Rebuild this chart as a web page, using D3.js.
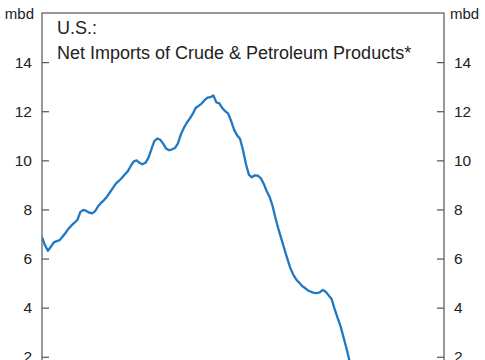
<!DOCTYPE html>
<html>
<head>
<meta charset="utf-8">
<script src="https://cdn.jsdelivr.net/npm/d3@7"></script>
<style>
  html, body { margin: 0; padding: 0; background: #fff; overflow: hidden; }
  svg { display: block; font-family: "Liberation Sans", Arial, sans-serif; }
</style>
</head>
<body>
<svg id="chart" width="485" height="360"></svg>
<script>
// quarterly series, first point = 1991 Q1
const START = new Date(1991, 0, 1);
const netImports = [
  6.87, 6.55, 6.32, 6.48, 6.66, 6.71, 6.75, 6.90, 7.05, 7.22,
  7.35, 7.46, 7.58, 7.90, 7.98, 7.94, 7.87, 7.84, 7.93, 8.13,
  8.27, 8.38, 8.52, 8.70, 8.88, 9.05, 9.16, 9.28, 9.42, 9.55,
  9.76, 9.95, 10.00, 9.90, 9.84, 9.90, 10.10, 10.45, 10.78, 10.89,
  10.84, 10.68, 10.48, 10.41, 10.45, 10.50, 10.69, 11.06, 11.32, 11.53,
  11.70, 11.89, 12.13, 12.22, 12.31, 12.45, 12.55, 12.57, 12.64, 12.36,
  12.32, 12.13, 12.00, 11.90, 11.60, 11.25, 11.02, 10.88, 10.42, 9.85,
  9.42, 9.31, 9.39, 9.38, 9.28, 9.05, 8.75, 8.52, 8.15, 7.65,
  7.20, 6.80, 6.40, 6.00, 5.62, 5.35, 5.15, 5.02, 4.88, 4.80,
  4.70, 4.65, 4.60, 4.59, 4.62, 4.72, 4.65, 4.50, 4.35, 3.95,
  3.58, 3.25, 2.80, 2.35, 1.85, 1.40, 0.95, 0.55, 0.25, 0.05,
  -0.30, -0.50, -0.20, 0.00, -0.40, -0.70, -0.90, -1.10, -1.30, -1.50
];
const yTicks = [-2, 0, 2, 4, 6, 8, 10, 12, 14];
const titleLines = ['U.S.:', 'Net Imports of Crude & Petroleum Products*'];
const unitLabel = 'mbd';

const svg = d3.select('#chart');
const plotLeft = 42, plotRight = 444, plotTop = 13, plotBottom = 455;

const x = d3.scaleTime()
  .domain([new Date(1991, 0, 1), new Date(2025, 0, 1)])
  .range([plotLeft, plotRight]);
const y = d3.scaleLinear().domain([-2, 16]).range([plotBottom, plotTop]);

const data = netImports.map((v, i) => ({ date: d3.timeMonth.offset(START, i * 3), value: v }));

svg.append('clipPath').attr('id', 'plot-clip')
  .append('rect').attr('x', plotLeft).attr('y', plotTop)
  .attr('width', plotRight - plotLeft).attr('height', plotBottom - plotTop);

// frame
svg.append('rect')
  .attr('x', plotLeft).attr('y', plotTop)
  .attr('width', plotRight - plotLeft).attr('height', plotBottom - plotTop)
  .attr('fill', 'none').attr('stroke', '#555').attr('stroke-width', 1.2);

const leftAxis = svg.append('g')
  .attr('transform', `translate(${plotLeft},0)`)
  .call(d3.axisRight(y).tickValues(yTicks).tickSize(7).tickFormat(''));
const rightAxis = svg.append('g')
  .attr('transform', `translate(${plotRight},0)`)
  .call(d3.axisLeft(y).tickValues(yTicks).tickSize(7).tickFormat(''));
[leftAxis, rightAxis].forEach(a => {
  a.select('.domain').remove();
  a.selectAll('line').attr('stroke', '#555').attr('stroke-width', 1.2);
});

svg.append('g').selectAll('text').data(yTicks).join('text')
  .attr('x', 32).attr('y', d => y(d)).attr('dy', '0.36em')
  .attr('text-anchor', 'end').attr('font-size', 15.5).attr('fill', '#222')
  .text(d => d);
svg.append('g').selectAll('text').data(yTicks).join('text')
  .attr('x', 454).attr('y', d => y(d)).attr('dy', '0.36em')
  .attr('text-anchor', 'start').attr('font-size', 15.5).attr('fill', '#222')
  .text(d => d);

svg.append('text').attr('x', 34).attr('y', 19).attr('text-anchor', 'end')
  .attr('font-size', 15).attr('fill', '#222').text(unitLabel);
svg.append('text').attr('x', 450).attr('y', 19).attr('text-anchor', 'start')
  .attr('font-size', 15).attr('fill', '#222').text(unitLabel);

svg.append('g').selectAll('text').data(titleLines).join('text')
  .attr('x', 57).attr('y', (d, i) => 34 + i * 24.5)
  .attr('font-size', 18).attr('fill', '#222')
  .text(d => d);

const line = d3.line().x(d => x(d.date)).y(d => y(d.value));
svg.append('path')
  .datum(data)
  .attr('clip-path', 'url(#plot-clip)')
  .attr('fill', 'none')
  .attr('stroke', '#1f78c1')
  .attr('stroke-width', 2.3)
  .attr('stroke-linejoin', 'round')
  .attr('d', line);
</script>
</body>
</html>
